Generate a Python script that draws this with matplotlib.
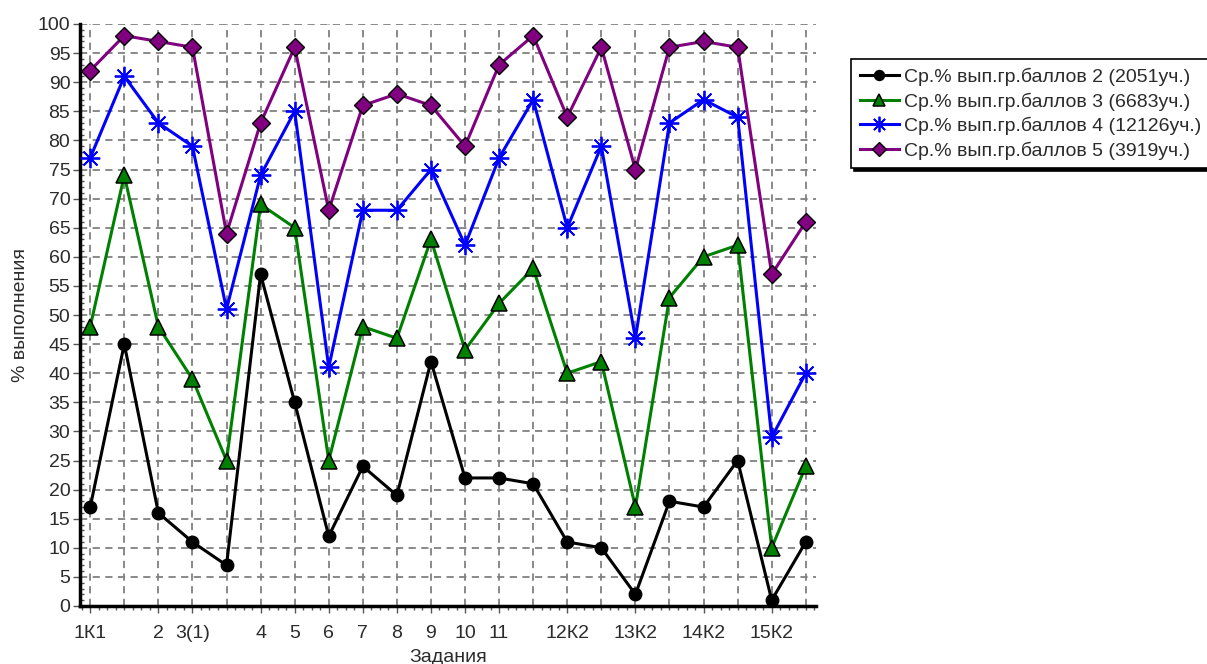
import matplotlib
matplotlib.use("Agg")
import matplotlib.pyplot as plt
from matplotlib.ticker import MultipleLocator

plt.rcParams['font.family'] = ['Liberation Sans', 'DejaVu Sans']

tick_labels = ["1К1", "", "2", "3(1)", "", "4", "5", "6", "7", "8", "9", "10", "11",
               "", "12К2", "", "13К2", "", "14К2", "", "15К2", ""]

series_names = ["Ср.% вып.гр.баллов 2 (2051уч.)",
                "Ср.% вып.гр.баллов 3 (6683уч.)",
                "Ср.% вып.гр.баллов 4 (12126уч.)",
                "Ср.% вып.гр.баллов 5 (3919уч.)"]

grade2 = [17, 45, 16, 11, 7, 57, 35, 12, 24, 19, 42, 22, 22, 21, 11, 10, 2, 18, 17, 25, 1, 11]
grade3 = [48, 74, 48, 39, 25, 69, 65, 25, 48, 46, 63, 44, 52, 58, 40, 42, 17, 53, 60, 62, 10, 24]
grade4 = [77, 91, 83, 79, 51, 74, 85, 41, 68, 68, 75, 62, 77, 87, 65, 79, 46, 83, 87, 84, 29, 40]
grade5 = [92, 98, 97, 96, 64, 83, 96, 68, 86, 88, 86, 79, 93, 98, 84, 96, 75, 96, 97, 96, 57, 66]

x = list(range(len(tick_labels)))
txt = '#2b2b2b'

fig = plt.figure(figsize=(12.07, 6.64), dpi=100)
ax = fig.add_axes([80/1207, 1 - 606/664, (816-80)/1207, (606-24)/664])

styles = [
    dict(color='black', marker='o', markersize=9, markerfacecolor='black', markeredgecolor='black'),
    dict(color='#008000', marker='^', markersize=11, markerfacecolor='#008000', markeredgecolor='black', markeredgewidth=1.1),
    dict(color='#0000ff', marker=(8, 2, 0), markersize=14, markeredgecolor='#0000ff', markeredgewidth=1.3),
    dict(color='#800080', marker='D', markersize=9, markerfacecolor='#800080', markeredgecolor='black', markeredgewidth=1.0),
]
for data, name, st in zip([grade2, grade3, grade4, grade5], series_names, styles):
    ax.plot(x, data, linewidth=2.2, label=name, zorder=3, **st)

ax.set_xlim(-0.3, 21.3)
ax.set_ylim(0, 100)
ax.set_xticks(x)
ax.set_xticklabels(tick_labels)
ax.xaxis.set_minor_locator(MultipleLocator(0.25))
ax.yaxis.set_major_locator(MultipleLocator(5))
ax.yaxis.set_minor_locator(MultipleLocator(1))

ax.grid(True, which='major', color='#808080', linestyle=(0, (4, 3)), linewidth=1.3, zorder=0)
ax.set_axisbelow(True)

for sp in ['top', 'right']:
    ax.spines[sp].set_visible(False)
for sp in ['left', 'bottom']:
    ax.spines[sp].set_linewidth(2.5)
    ax.spines[sp].set_color('black')

ax.tick_params(axis='both', which='major', labelsize=14, labelcolor=txt, color='#555555',
               length=5, width=1, direction='out')
ax.tick_params(axis='y', which='major', pad=2)
ax.tick_params(axis='x', which='major', pad=9)
ax.tick_params(axis='x', which='minor', length=3, width=1, color='#555555', direction='out')
ax.tick_params(axis='y', which='minor', length=3, width=1, color='#555555', direction='in')

for tk, lab in zip(ax.xaxis.get_major_ticks(), tick_labels):
    if lab == "":
        tk.tick1line.set_markersize(3)

ax.set_xlabel("Задания", fontsize=14, color=txt, labelpad=5)
ax.set_ylabel("% выполнения", fontsize=14, color=txt, labelpad=6)

leg = fig.legend(loc='upper left', bbox_to_anchor=(851/1207, 1 - 59/664), fontsize=14,
                 frameon=True, fancybox=False, shadow={'color': 'black', 'alpha': 1},
                 handlelength=2.0, handletextpad=0.25, borderpad=0.45, labelspacing=0.32,
                 borderaxespad=0, labelcolor=txt)
leg.get_frame().set_edgecolor('black')
leg.get_frame().set_linewidth(1.2)
for h in leg.legend_handles:
    h.set_markersize(h.get_markersize() * 0.8)

fig.savefig("out.png", dpi=100)
